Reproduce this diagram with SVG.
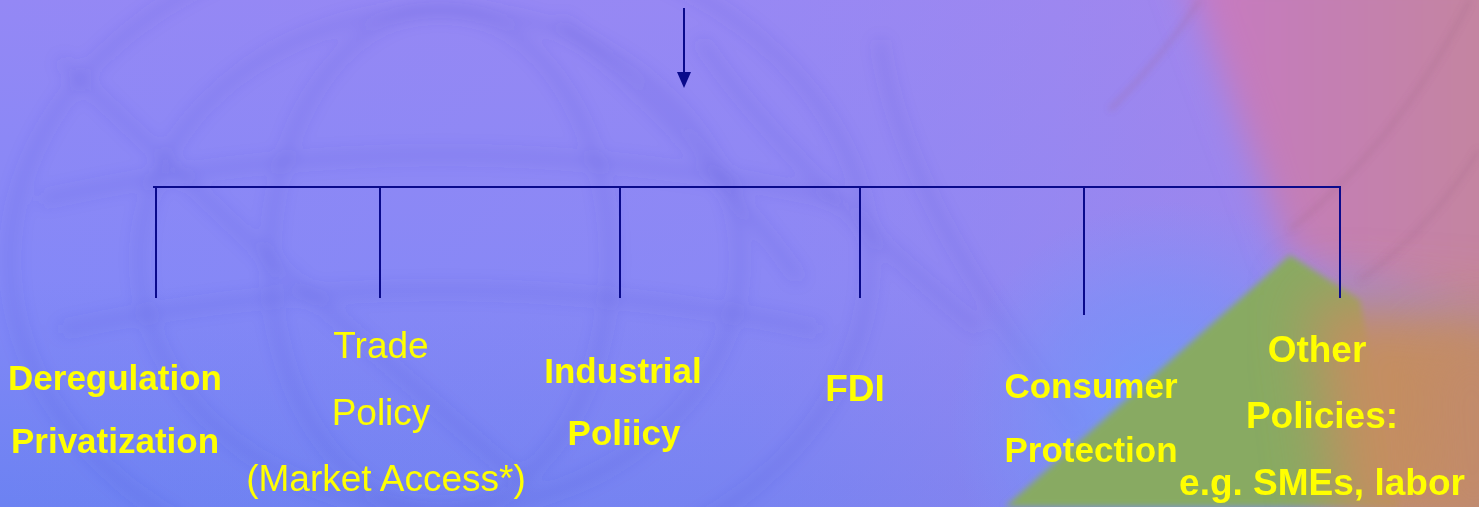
<svg xmlns="http://www.w3.org/2000/svg" width="1479" height="507" viewBox="0 0 1479 507">
  <defs>
    <linearGradient id="baseV" x1="0" y1="0" x2="0" y2="1">
      <stop offset="0" stop-color="#9488f5"/>
      <stop offset="0.55" stop-color="#8488f7"/>
      <stop offset="1" stop-color="#6c82f2"/>
    </linearGradient>
    <linearGradient id="warmH" x1="0" y1="0" x2="1" y2="0">
      <stop offset="0" stop-color="#a488ee" stop-opacity="0"/>
      <stop offset="0.5" stop-color="#a488ee" stop-opacity="0.2"/>
      <stop offset="0.85" stop-color="#ac84e6" stop-opacity="0.55"/>
      <stop offset="1" stop-color="#b084e0" stop-opacity="0.7"/>
    </linearGradient>
    <linearGradient id="pinkH" x1="0" y1="0" x2="1" y2="0">
      <stop offset="0" stop-color="#c878c4"/>
      <stop offset="0.35" stop-color="#c47eb6"/>
      <stop offset="1" stop-color="#c4869c"/>
    </linearGradient>
    <radialGradient id="skyBlue" cx="1170" cy="420" r="220" gradientUnits="userSpaceOnUse">
      <stop offset="0" stop-color="#6e98fc" stop-opacity="0.95"/>
      <stop offset="0.6" stop-color="#7494fa" stop-opacity="0.5"/>
      <stop offset="1" stop-color="#7896fa" stop-opacity="0"/>
    </radialGradient>
    <filter id="soft" x="-20%" y="-20%" width="140%" height="140%">
      <feGaussianBlur stdDeviation="3"/>
    </filter>
    <filter id="mid" x="-30%" y="-30%" width="160%" height="160%">
      <feGaussianBlur stdDeviation="18"/>
    </filter>
    <filter id="wide" x="-30%" y="-30%" width="160%" height="160%">
      <feGaussianBlur stdDeviation="30"/>
    </filter>
    <filter id="haze" x="-10%" y="-10%" width="120%" height="120%">
      <feGaussianBlur stdDeviation="8"/>
    </filter>
    <style>
      .wire { stroke: #0a0a8c; stroke-width: 2; fill: none; }
      .bold { font-family: "Liberation Sans", Arial, sans-serif; font-weight: bold; font-size: 35px; fill: #ffff00; text-anchor: middle; }
      .big { font-size: 37px; }
      .plain { font-family: "Liberation Sans", Arial, sans-serif; font-size: 37px; fill: #ffff00; text-anchor: middle; }
      .globe { stroke: #4a4ec8; stroke-width: 12; fill: none; opacity: 0.13; }
      .wreath { stroke: #a06888; stroke-width: 4; fill: none; opacity: 0.3; }
    </style>
  </defs>

  <!-- backdrop -->
  <g id="backdrop">
    <rect x="0" y="0" width="1479" height="507" fill="url(#baseV)"/>
    <rect x="0" y="0" width="1479" height="507" fill="url(#warmH)"/>
    <!-- faint emblem strokes -->
    <g filter="url(#haze)">
      <ellipse class="globe" cx="440" cy="260" rx="430" ry="330"/>
      <ellipse class="globe" cx="440" cy="260" rx="300" ry="250"/>
      <ellipse class="globe" cx="440" cy="260" rx="170" ry="250"/>
      <path class="globe" d="M40,200 Q440,110 840,200"/>
      <path class="globe" d="M60,330 Q440,250 820,330"/>
      <path class="globe" d="M60,60 L260,250 L520,480"/>
      <path class="globe" d="M700,40 Q780,160 980,330"/>
      <path class="globe" d="M880,40 Q900,200 1080,430"/>
      <path class="globe" d="M560,20 Q700,140 800,280"/>
    </g>
    <rect x="0" y="0" width="1479" height="507" fill="url(#skyBlue)"/>
    <!-- pink upper right -->
    <polygon points="1180,-40 1520,-40 1520,320 1290,256" fill="url(#pinkH)" filter="url(#mid)"/>
    <!-- green wedge -->
    <polygon points="1290,255 1005,507 1400,507 1360,300" fill="#88aa62" filter="url(#soft)"/>
    <!-- orange lower right -->
    <polygon points="1310,295 1520,310 1520,540 1340,540" fill="#c48e60" filter="url(#wide)"/>
    <polygon points="1420,340 1520,330 1520,540 1430,540" fill="#c28a6c" filter="url(#wide)" opacity="0.8"/>
    <!-- faint wreath arcs in the warm corner -->
    <g filter="url(#soft)">
      <path class="wreath" d="M1470,0 Q1400,140 1290,230"/>
      <path class="wreath" d="M1479,150 Q1430,230 1360,280"/>
      <path class="wreath" d="M1200,0 Q1160,60 1110,110"/>
    </g>
  </g>

  <!-- connectors -->
  <g id="connectors">
    <line class="wire" x1="684" y1="8" x2="684" y2="74"/>
    <path d="M677,72 L691,72 L684,88 Z" fill="#0a0a8c"/>
    <line class="wire" x1="153" y1="187" x2="1341" y2="187"/>
    <line class="wire" x1="156" y1="187" x2="156" y2="298"/>
    <line class="wire" x1="380" y1="187" x2="380" y2="298"/>
    <line class="wire" x1="620" y1="187" x2="620" y2="298"/>
    <line class="wire" x1="860" y1="187" x2="860" y2="298"/>
    <line class="wire" x1="1084" y1="187" x2="1084" y2="315"/>
    <line class="wire" x1="1340" y1="187" x2="1340" y2="298"/>
  </g>

  <g id="node-deregulation">
    <text class="bold" x="115" y="390">Deregulation</text>
    <text class="bold" x="115" y="453">Privatization</text>
  </g>
  <g id="node-trade">
    <text class="plain" x="381" y="358">Trade</text>
    <text class="plain" x="381" y="425">Policy</text>
    <text class="plain" x="386" y="491">(Market Access*)</text>
  </g>
  <g id="node-industrial">
    <text class="bold" x="623" y="383">Industrial</text>
    <text class="bold" x="624" y="445">Poliicy</text>
  </g>
  <g id="node-fdi">
    <text class="bold big" x="855" y="401">FDI</text>
  </g>
  <g id="node-consumer">
    <text class="bold" x="1091" y="398">Consumer</text>
    <text class="bold" x="1091" y="462">Protection</text>
  </g>
  <g id="node-other">
    <text class="bold big" x="1317" y="362">Other</text>
    <text class="bold big" x="1322" y="428">Policies:</text>
    <text class="bold big" x="1322" y="495">e.g. SMEs, labor</text>
  </g>
</svg>
